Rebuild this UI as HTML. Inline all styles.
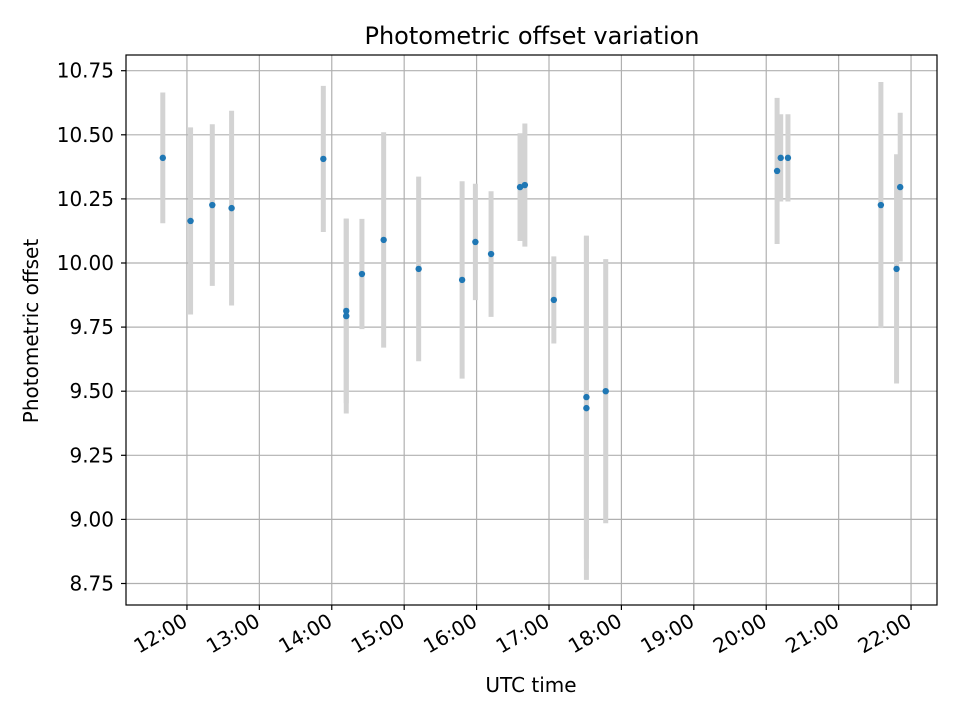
<!DOCTYPE html>
<html><head><meta charset="utf-8"><style>body{margin:0;background:#fff}svg{font-family:"DejaVu Sans","Liberation Sans",sans-serif}</style></head>
<body>
<svg id="c" width="960" height="720" viewBox="0 0 960 720" xmlns="http://www.w3.org/2000/svg">
<rect width="960" height="720" fill="#fff"/>
<text x="532" y="44" font-size="24" text-anchor="middle">Photometric offset variation</text>
<text x="531" y="692" font-size="20" text-anchor="middle">UTC time</text>
<text transform="translate(38,331) rotate(-90)" font-size="20" text-anchor="middle">Photometric offset</text>
<g id="grid"></g><g id="err"></g><g id="pts"></g><g id="axes"></g>
</svg>
<script>
const times=["11:40","12:03","12:21","12:37","13:53","14:12","14:12","14:25","14:43","15:12","15:48","15:59","16:12","16:36","16:40","17:04","17:31","17:31","17:47","20:09","20:12","20:18","21:35","21:48","21:51"];
const offsets=[10.41,10.164,10.226,10.214,10.406,9.813,9.793,9.957,10.09,9.977,9.934,10.082,10.035,10.296,10.304,9.856,9.477,9.434,9.50,10.359,10.41,10.41,10.226,9.977,10.296];
const errors=[0.255,0.365,0.315,0.38,0.285,0.36,0.38,0.215,0.42,0.36,0.385,0.227,0.245,0.21,0.24,0.17,0.63,0.67,0.515,0.285,0.17,0.17,0.48,0.447,0.29];
const yTicks=[8.75,9.00,9.25,9.50,9.75,10.00,10.25,10.50,10.75];
const xTicks=["12:00","13:00","14:00","15:00","16:00","17:00","18:00","19:00","20:00","21:00","22:00"];
const L=126,R=937,T=55,B=605;
const toMin=s=>{const[a,b]=s.split(":").map(Number);return a*60+b;};
const xMin=toMin("11:09")+0.5,xMax=toMin("22:21")+0.5;
const X=m=>L+(m-xMin)/(xMax-xMin)*(R-L);
const Y=v=>263-(v-10)*256.4;
const NS="http://www.w3.org/2000/svg";
function mk(tag,attrs,parent){const e=document.createElementNS(NS,tag);for(const k in attrs)e.setAttribute(k,attrs[k]);document.getElementById(parent).appendChild(e);return e;}
yTicks.forEach(v=>{const y=Y(v);
 const g=mk("line",{x1:L,x2:R,y1:y,y2:y,stroke:"#b0b0b0","stroke-width":1.2},"grid");
 
 
 const t=mk("line",{x1:L-5,x2:L,y1:y,y2:y,stroke:"#000","stroke-width":1.2},"axes");
 
 
 const tx=mk("text",{x:L-12,y:y+7,"font-size":20,"text-anchor":"end"},"axes");
 
 
 tx.textContent=v.toFixed(2);});
xTicks.forEach(s=>{const x=X(toMin(s));
 const g=mk("line",{x1:x,x2:x,y1:T,y2:B,stroke:"#b0b0b0","stroke-width":1.2},"grid");
 
 
 const t=mk("line",{x1:x,x2:x,y1:B,y2:B+5,stroke:"#000","stroke-width":1.2},"axes");
 
 
 const tx=mk("text",{transform:`translate(${x+2},${B+20}) rotate(-30)`,"font-size":20,"text-anchor":"end"},"axes");
 
 
 tx.textContent=s;});
times.forEach((s,i)=>{const x=X(toMin(s));
 const e=mk("line",{x1:x,x2:x,y1:Y(offsets[i]+errors[i]),y2:Y(offsets[i]-errors[i]),stroke:"#d3d3d3","stroke-width":5},"err");
 
 
 const p=mk("circle",{cx:x,cy:Y(offsets[i]),r:3.2,fill:"#1f77b4"},"pts");
 
 });
const f=mk("rect",{x:L,y:T,width:R-L,height:B-T,fill:"none",stroke:"#000","stroke-width":1.2},"axes");


</script>
</body></html>
